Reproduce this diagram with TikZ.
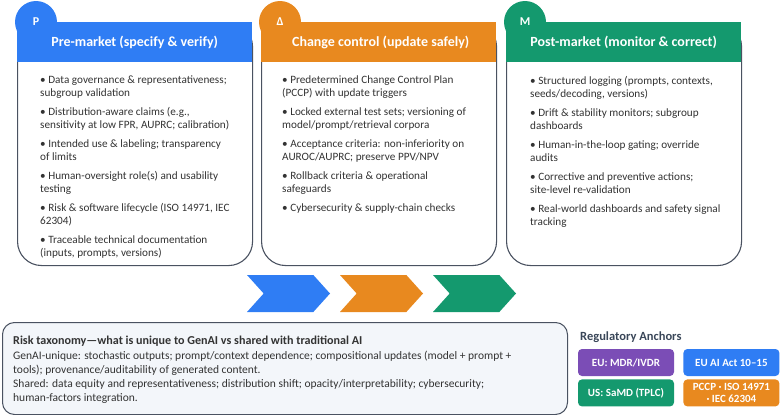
\documentclass[tikz,border=0pt]{standalone}
\usepackage{fontspec}
\setmainfont{Carlito}
\usetikzlibrary{positioning,shapes.symbols}
\definecolor{preblue}{HTML}{2F7DF4}
\definecolor{chgorange}{HTML}{E8891F}
\definecolor{postgreen}{HTML}{14996E}
\definecolor{regpurple}{HTML}{7B4DB6}
\definecolor{edgegray}{HTML}{4A5261}
\definecolor{inkgray}{HTML}{333333}
\definecolor{panelfill}{HTML}{F3F6FA}
\definecolor{anchorink}{HTML}{3A4759}

\begin{document}
\begin{tikzpicture}[
  x=1pt, y=-1pt,
  card/.style={draw=edgegray, line width=1.1pt, rounded corners=24pt, fill=white,
               minimum width=235pt, minimum height=243pt, anchor=north west, inner sep=0pt},
  band/.style={fill=#1, minimum width=235pt, minimum height=40pt, anchor=north west,
               inner sep=0pt},
  title/.style={text=white, inner sep=0pt, font=\fontsize{14}{16}\selectfont\bfseries},
  tab/.style={circle, fill=#1, minimum size=42pt, inner sep=0pt, text=white,
              font=\fontsize{12}{14}\selectfont\bfseries},
  items/.style={anchor=north west, align=left, inner sep=0pt, text=inkgray,
                font=\fontsize{11.2}{13}\selectfont},
  chev/.style={signal, signal from=west, signal to=east, signal pointer angle=96,
               fill=#1, minimum width=83pt, minimum height=37pt, inner sep=0pt},
  badge/.style={fill=#1, rounded corners=4pt, minimum width=96pt, minimum height=27pt,
                text=white, align=center, inner sep=1pt,
                font=\fontsize{11}{12}\selectfont\bfseries}
]
  \useasboundingbox (0,0) rectangle (780,415);

  % phase cards
  \node[card] (pre) at (17,22) {};
  \node[band=preblue] (prehead) at (17,22) {};
  \node[tab=preblue] (pretab) at (36,22) {P};
  \node[title] (pretitle) at (prehead.center) {Pre-market (specify \& verify)};
  \node[items] (preitems) at (40,76) {%
    • Data governance \& representativeness;\\subgroup validation\\[6pt]
    • Distribution-aware claims (e.g.,\\sensitivity at low FPR, AUPRC; calibration)\\[6pt]
    • Intended use \& labeling; transparency\\of limits\\[6pt]
    • Human-oversight role(s) and usability\\testing\\[6pt]
    • Risk \& software lifecycle (ISO 14971, IEC\\62304)\\[6pt]
    • Traceable technical documentation\\(inputs, prompts, versions)};

  \node[card] (chg) at (261,22) {};
  \node[band=chgorange] (chghead) at (261,22) {};
  \node[tab=chgorange] (chgtab) at (280,22) {Δ};
  \node[title] (chgtitle) at ([xshift=2pt]chghead.center) {Change control (update safely)};
  \node[items] (chgitems) at (282,76) {%
    • Predetermined Change Control Plan\\(PCCP) with update triggers\\[6pt]
    • Locked external test sets; versioning of\\model/prompt/retrieval corpora\\[6pt]
    • Acceptance criteria: non-inferiority on\\AUROC/AUPRC; preserve PPV/NPV\\[6pt]
    • Rollback criteria \& operational\\safeguards\\[6pt]
    • Cybersecurity \& supply-chain checks};

  \node[card] (post) at (506,22) {};
  \node[band=postgreen] (posthead) at (506,22) {};
  \node[tab=postgreen] (posttab) at (525,22) {M};
  \node[title] (posttitle) at (posthead.center) {Post-market (monitor \& correct)};
  \node[items] (postitems) at (530,76) {%
    • Structured logging (prompts, contexts,\\seeds/decoding, versions)\\[6pt]
    • Drift \& stability monitors; subgroup\\dashboards\\[6pt]
    • Human-in-the-loop gating; override\\audits\\[6pt]
    • Corrective and preventive actions;\\site-level re-validation\\[6pt]
    • Real-world dashboards and safety signal\\tracking};

  % flow chevrons
  \node[chev=preblue] (chev1) at (288.5,293.5) {};
  \node[chev=chgorange] (chev2) at (381.5,293.5) {};
  \node[chev=postgreen] (chev3) at (474.5,293.5) {};

  % risk taxonomy panel
  \node[draw=edgegray, line width=1pt, fill=panelfill, rounded corners=12pt,
        minimum width=565pt, minimum height=92pt, anchor=north west] (risk) at (2,322) {};
  \node[anchor=north west, align=left, inner sep=0pt, text=inkgray,
        font=\fontsize{11.5}{14}\selectfont] (risktext) at (13,336) {%
    \textbf{\fontsize{12.1}{14}\selectfont Risk taxonomy—what is unique to GenAI vs shared with traditional AI}\\[1pt]
    GenAI-unique: stochastic outputs; prompt/context dependence; compositional updates (model + prompt +\\
    tools); provenance/auditability of generated content.\\
    Shared: data equity and representativeness; distribution shift; opacity/interpretability; cybersecurity;\\
    human-factors integration.};

  % regulatory anchors
  \node[anchor=west, inner sep=0pt, text=anchorink, font=\fontsize{12.5}{15}\selectfont\bfseries]
    (regtitle) at (580,337) {Regulatory Anchors};
  \node[badge=regpurple] (mdr) at (626,362.5) {EU: MDR/IVDR};
  \node[badge=preblue, right=9pt of mdr] (aiact) {EU AI Act 10–15};
  \node[badge=postgreen, below=3pt of mdr] (samd) {US: SaMD (TPLC)};
  \node[badge=chgorange, below=3pt of aiact] (pccp) {PCCP · ISO 14971\\· IEC 62304};
\end{tikzpicture}
\end{document}
